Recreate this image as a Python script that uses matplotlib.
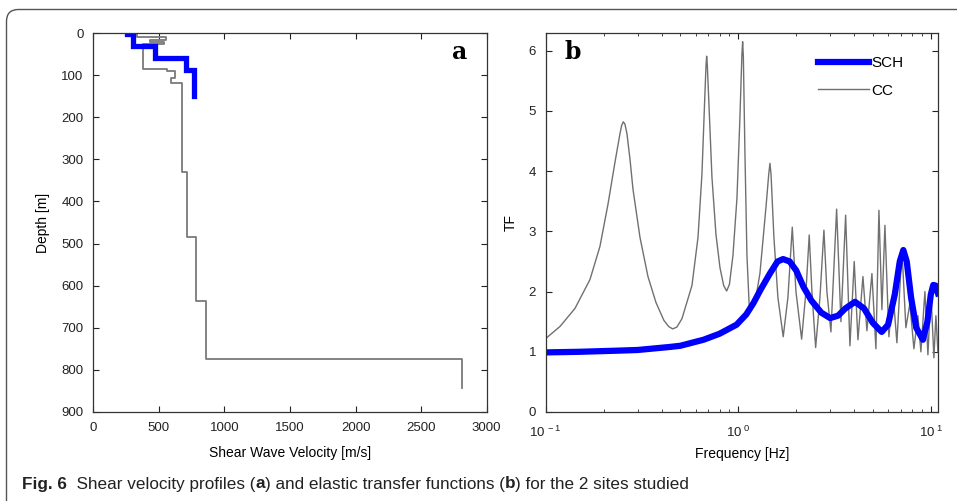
import numpy as np
import matplotlib
matplotlib.use('Agg')
import matplotlib.pyplot as plt
from matplotlib.patches import FancyBboxPatch
from matplotlib.transforms import IdentityTransform

plt.rcParams['font.family'] = ['Liberation Sans', 'DejaVu Sans']
plt.rcParams['mathtext.fontset'] = 'custom'
plt.rcParams['mathtext.rm'] = 'Liberation Sans'
plt.rcParams['mathtext.it'] = 'Liberation Sans'

# --- panel a: shear wave velocity profiles (layer top depth [m], Vs [m/s])
sch_top = [0, 2, 31, 59, 88]
sch_vs = [255, 305, 467, 705, 768]
sch_bottom = 150

cc_top = [0, 10, 17, 21, 27, 85, 90, 106, 119, 331, 484, 637, 774]
cc_vs = [335, 555, 430, 540, 381, 560, 625, 590, 677, 717, 783, 859, 2809]
cc_bottom = 842

# --- panel b: elastic transfer functions
cc_f = [0.100, 0.1186, 0.1419, 0.1698, 0.1913, 0.2106, 0.2290, 0.2430, 0.2480, 0.2529,
        0.2580, 0.2643, 0.2740, 0.2840, 0.3088, 0.3397, 0.3737, 0.4113, 0.4350, 0.4564,
        0.4800, 0.5101, 0.5748, 0.6180, 0.6478, 0.6716, 0.6800, 0.6853, 0.6910, 0.7046,
        0.7302, 0.7660, 0.8035, 0.8400, 0.8706, 0.9000, 0.9386, 0.9846, 1.0205, 1.0450,
        1.0539, 1.0630, 1.0833, 1.1096, 1.1405, 1.220, 1.296, 1.393, 1.440, 1.461,
        1.480, 1.532, 1.607, 1.712, 1.811, 1.908, 1.994, 2.134, 2.247, 2.337,
        2.413, 2.523, 2.656, 2.786, 2.887, 3.029, 3.243, 3.414, 3.612, 3.802,
        4.003, 4.184, 4.442, 4.659, 4.946, 5.188, 5.378, 5.574, 5.778, 6.060,
        6.357, 6.668, 7.079, 7.424, 7.789, 8.171, 8.570, 8.884, 9.320, 9.661,
        10.01, 10.38, 10.63, 10.89]
cc_tf = [1.22, 1.42, 1.72, 2.2, 2.75, 3.45, 4.15, 4.62, 4.76, 4.82,
         4.78, 4.62, 4.2, 3.7, 2.9, 2.25, 1.82, 1.52, 1.42, 1.38,
         1.41, 1.55, 2.1, 2.9, 3.95, 5.3, 5.75, 5.91, 5.75, 5.1,
         3.9, 2.95, 2.4, 2.1, 2.01, 2.12, 2.6, 3.55, 4.9, 5.95,
         6.15, 5.9, 4.3, 2.6, 1.75, 1.8, 2.3, 3.4, 3.95, 4.13,
         3.95, 2.9, 1.9, 1.25, 1.9, 3.07, 2.0, 1.21, 2.0, 2.94,
         2.0, 1.07, 1.9, 3.02, 2.0, 1.33, 3.37, 1.5, 3.27, 1.1,
         2.5, 1.2, 2.25, 1.35, 2.3, 1.05, 3.35, 1.7, 3.1, 1.25,
         2.0, 1.15, 2.7, 1.4, 1.8, 1.05, 1.6, 1.0, 2.0, 0.95,
         2.0, 0.9, 1.6, 1.0]

sch_f = [0.100, 0.15, 0.243, 0.30, 0.44, 0.50, 0.66, 0.80, 0.98, 1.10, 1.20, 1.30,
         1.46, 1.60, 1.71, 1.85, 2.00, 2.18, 2.40, 2.70, 3.00, 3.30, 3.60, 4.04,
         4.50, 5.00, 5.56, 6.00, 6.50, 6.90, 7.20, 7.50, 7.90, 8.40, 9.10, 9.60,
         10.0, 10.3, 10.6, 10.9]
sch_tf = [0.99, 1.0, 1.02, 1.03, 1.08, 1.10, 1.20, 1.30, 1.45, 1.62, 1.81, 2.02,
          2.30, 2.50, 2.54, 2.50, 2.35, 2.08, 1.85, 1.65, 1.56, 1.60, 1.72, 1.83,
          1.72, 1.48, 1.33, 1.45, 1.95, 2.50, 2.69, 2.50, 1.90, 1.40, 1.20, 1.50,
          1.95, 2.11, 2.10, 1.97]


def steps(top, vs, bottom):
    v = np.repeat(vs, 2)
    d = np.concatenate([[top[0]], np.repeat(top[1:], 2), [bottom]])
    return v, d


fig = plt.figure(figsize=(9.57, 5.01), dpi=100)

# rounded frame of the figure box
frame = FancyBboxPatch((6.5, -30), 1100, 30 + 501 - 9.5,
                       boxstyle='round,pad=0,rounding_size=12',
                       transform=IdentityTransform(), fill=False,
                       edgecolor='#555555', linewidth=1.0)
fig.add_artist(frame)

ax1 = fig.add_axes([93.3 / 957, 89 / 501, 393.4 / 957, 379 / 501])
ax2 = fig.add_axes([545.7 / 957, 89 / 501, 392.3 / 957, 379.3 / 501])

gray = '#7a7a7a'
v, d = steps(cc_top, cc_vs, cc_bottom)
ax1.plot(v, d, color=gray, lw=1.3)
v, d = steps(sch_top, sch_vs, sch_bottom)
ax1.plot(v, d, color='#0000ff', lw=3.8, solid_capstyle='projecting',
         solid_joinstyle='miter')
ax1.set_xlim(0, 3000)
ax1.set_ylim(900, 0)
ax1.set_xticks(np.arange(0, 3001, 500))
ax1.set_yticks(np.arange(0, 901, 100))
ax1.set_xlabel('Shear Wave Velocity [m/s]', fontsize=10, labelpad=9)
ax1.set_ylabel('Depth [m]', fontsize=10, labelpad=8)
ax1.text(0.93, 0.95, 'a', transform=ax1.transAxes, fontsize=17,
         fontweight='bold', family='DejaVu Serif', ha='center', va='center')

ax2.plot(cc_f, cc_tf, color='#707070', lw=1.0, label='CC')
ax2.plot(sch_f, sch_tf, color='#0000ff', lw=4.5, label='SCH')
ax2.set_xscale('log')
ax2.set_xlim(0.1, 10.9)
ax2.set_ylim(0, 6.3)
ax2.set_yticks(range(7))
ax2.set_xticks([0.1, 1, 10])
ax2.set_xticklabels(['10$^{\\ -1}$', '10$^{\\ 0}$', '10$^{\\ 1}$'])
ax2.set_xlabel('Frequency [Hz]', fontsize=10, labelpad=5)
ax2.set_ylabel('TF', fontsize=10, labelpad=8)
ax2.text(0.07, 0.95, 'b', transform=ax2.transAxes, fontsize=17,
         fontweight='bold', family='DejaVu Serif', ha='center', va='center')
h, l = ax2.get_legend_handles_labels()
ax2.legend(h[::-1], l[::-1], loc='upper left', bbox_to_anchor=(0.66, 0.975),
           frameon=False, fontsize=11, handlelength=3.3, handletextpad=0.15,
           labelspacing=0.9)

for ax in (ax1, ax2):
    ax.tick_params(which='both', direction='in', top=True, right=True,
                   labelsize=9.5, colors='#222222', pad=7)
    ax.tick_params(which='major', length=4)
    ax.tick_params(which='minor', length=2.5)
    for s in ax.spines.values():
        s.set_color('#333333')
        s.set_linewidth(0.9)
ax2.tick_params(axis='x', which='both', pad=9)

# caption with mixed bold / regular pieces
parts = [('Fig. 6', 'bold'), ('  Shear velocity profiles (', 'normal'), ('a', 'bold'),
         (') and elastic transfer functions (', 'normal'), ('b', 'bold'),
         (') for the 2 sites studied', 'normal')]
fig.canvas.draw()
r = fig.canvas.get_renderer()
x = 22
for s, w in parts:
    t = fig.text(x / 957, 1 - 484 / 501, s, fontsize=12.3, fontweight=w,
                 va='center', color='#222222')
    x += t.get_window_extent(r).width

fig.savefig('out.png', dpi=100)
